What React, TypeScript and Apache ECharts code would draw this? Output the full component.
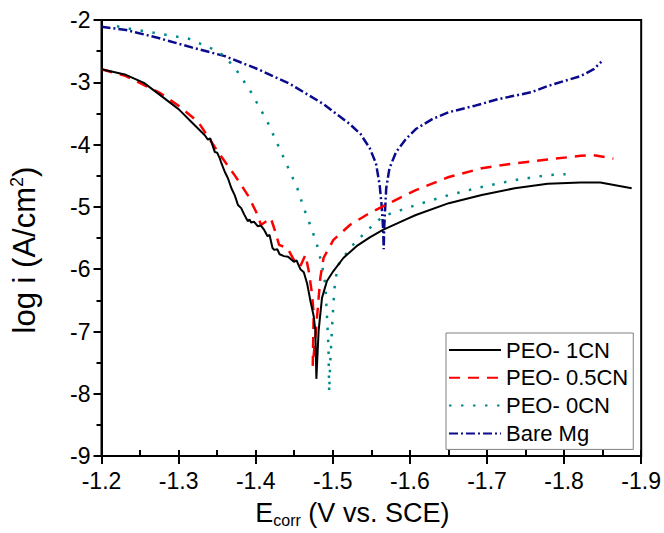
import React, { useEffect, useRef } from "react";
import * as echarts from "echarts";

const FONT = "'Liberation Sans', Arial, sans-serif";

const xTickValues = [-1.2, -1.3, -1.4, -1.5, -1.6, -1.7, -1.8, -1.9];
const yTickValues = [-2, -3, -4, -5, -6, -7, -8, -9];

const seriesNames = ["PEO- 1CN", "PEO- 0.5CN", "PEO- 0CN", "Bare Mg"];

const peo1CN: [number, number][] = [
  [-1.2, -2.79], [-1.2316, -2.88], [-1.255, -3.01], [-1.2744, -3.19], [-1.3, -3.43],
  [-1.317, -3.64], [-1.334, -3.85], [-1.338, -3.92], [-1.341, -3.9], [-1.347, -4.12],
  [-1.350, -4.13], [-1.3534, -4.22], [-1.355, -4.28], [-1.36, -4.44], [-1.364, -4.54],
  [-1.3685, -4.70], [-1.373, -4.82], [-1.377, -4.97], [-1.3812, -5.02], [-1.385, -5.12],
  [-1.3898, -5.23], [-1.392, -5.2], [-1.394, -5.25], [-1.398, -5.24], [-1.4026, -5.31],
  [-1.4068, -5.30], [-1.411, -5.37], [-1.4154, -5.47], [-1.418, -5.45], [-1.4218, -5.66],
  [-1.424, -5.69], [-1.428, -5.68], [-1.431, -5.76], [-1.4367, -5.79], [-1.442, -5.8],
  [-1.4495, -5.88], [-1.453, -5.86], [-1.458, -6.0], [-1.4624, -6.05], [-1.4667, -6.23],
  [-1.471, -6.51], [-1.4752, -6.75], [-1.4774, -6.99], [-1.4787, -7.76],
  [-1.4816, -6.99], [-1.486, -6.46], [-1.4924, -6.19], [-1.5008, -6.03], [-1.5137, -5.82],
  [-1.5308, -5.63], [-1.548, -5.49], [-1.565, -5.37], [-1.595, -5.2], [-1.6077, -5.13],
  [-1.6505, -4.94], [-1.6932, -4.81], [-1.736, -4.70], [-1.7787, -4.63], [-1.8214, -4.61],
  [-1.847, -4.61], [-1.8877, -4.70],
];

const peo05CN: [number, number][] = [
  [-1.2, -2.79], [-1.2316, -2.90], [-1.2744, -3.16], [-1.3, -3.375], [-1.3256, -3.64],
  [-1.3513, -4.12], [-1.3726, -4.49], [-1.3813, -4.65], [-1.3897, -4.81], [-1.4026, -5.13],
  [-1.4068, -5.29], [-1.4196, -5.18], [-1.426, -5.42], [-1.4303, -5.61], [-1.441, -5.66],
  [-1.4495, -5.85], [-1.458, -5.95], [-1.4645, -5.77], [-1.4688, -6.03], [-1.4731, -6.40],
  [-1.4752, -6.72], [-1.4745, -7.2], [-1.474, -7.55],
  [-1.478, -7.0], [-1.4838, -6.14], [-1.488, -5.82], [-1.5008, -5.53], [-1.5222, -5.29],
  [-1.5436, -5.13], [-1.565, -4.99], [-1.6077, -4.73], [-1.6505, -4.52], [-1.6932, -4.38],
  [-1.736, -4.30], [-1.7787, -4.24], [-1.8214, -4.18], [-1.8385, -4.17], [-1.864, -4.225],
];

const peo0CN: [number, number][] = [
  [-1.22, -2.10], [-1.232, -2.13], [-1.266, -2.20], [-1.313, -2.30], [-1.343, -2.46],
  [-1.36, -2.58], [-1.377, -2.84], [-1.394, -3.16], [-1.4155, -3.64], [-1.437, -4.23],
  [-1.454, -4.70], [-1.4624, -5.02], [-1.4731, -5.37], [-1.4795, -5.61], [-1.486, -5.93],
  [-1.4902, -6.24], [-1.4923, -6.72], [-1.4944, -7.25], [-1.4953, -7.97],
  [-1.4966, -7.52], [-1.4988, -6.99], [-1.5008, -6.56], [-1.503, -6.19], [-1.5073, -5.93],
  [-1.5222, -5.66], [-1.5436, -5.39], [-1.565, -5.15], [-1.6077, -4.97], [-1.6505, -4.81],
  [-1.6932, -4.68], [-1.736, -4.57], [-1.7787, -4.49], [-1.802, -4.475],
];

const bareMg: [number, number][] = [
  [-1.2, -2.11], [-1.232, -2.16], [-1.274, -2.29], [-1.317, -2.44], [-1.36, -2.58],
  [-1.403, -2.79], [-1.445, -3.03], [-1.488, -3.35], [-1.522, -3.67], [-1.536, -3.83],
  [-1.548, -4.06], [-1.556, -4.3], [-1.5608, -4.65], [-1.5635, -5.0], [-1.5655, -5.4],
  [-1.566, -5.68],
  [-1.5668, -5.3], [-1.5693, -4.70], [-1.5735, -4.38], [-1.5821, -4.12], [-1.5949, -3.91],
  [-1.6077, -3.75], [-1.629, -3.59], [-1.6505, -3.48], [-1.6847, -3.375], [-1.7146, -3.27],
  [-1.7573, -3.16], [-1.7788, -3.06], [-1.8, -2.98], [-1.8214, -2.90], [-1.8385, -2.79],
  [-1.8483, -2.67],
];

const seriesData = [peo1CN, peo05CN, peo0CN, bareMg];
const seriesColors = ["#000000", "#ff0000", "#008b8b", "#0a0a8c"];
const seriesDash: any[] = ["solid", [11, 8], [2.5, 9.5], [9, 3, 2, 3]];
const seriesWidth = [2, 2.5, 2.5, 2.5];

export default function App() {
  const ref = useRef<HTMLDivElement>(null);
  useEffect(() => {
    if (!ref.current) return;
    const chart = echarts.init(ref.current, null, { renderer: "svg" });
    const tickFont = { fontFamily: FONT, fontSize: 23, color: "#000" };
    chart.setOption({
      animation: false,
      backgroundColor: "#fff",
      grid: {
        left: 99,
        right: 19,
        top: 20,
        bottom: 73,
        show: true,
        borderColor: "#000",
        borderWidth: 2,
        backgroundColor: "transparent",
      },
      legend: {
        data: seriesNames,
        orient: "vertical",
        left: 446,
        top: 333,
        padding: [6, 5, 5, 2],
        itemWidth: 52,
        itemHeight: 14,
        itemGap: 5.8,
        borderColor: "#808080",
        borderWidth: 1,
        backgroundColor: "#fff",
        itemStyle: { opacity: 0 },
        textStyle: { fontFamily: FONT, fontSize: 22, color: "#000", lineHeight: 22 },
      },
      xAxis: [
        {
          type: "value",
          inverse: true,
          min: -1.9,
          max: -1.2,
          interval: 0.1,
          position: "bottom",
          axisLine: { show: true, lineStyle: { color: "#000", width: 2 } },
          axisTick: { show: true, inside: false, length: 8, lineStyle: { color: "#000", width: 2 } },
          axisLabel: {
            ...tickFont,
            margin: 13,
            formatter: (v: number) => {
              const s = v.toFixed(1);
              return xTickValues.some((t) => t.toFixed(1) === s) ? s : "";
            },
          },
          splitLine: { show: false },
          name: "{t|E}{s|corr}{t| (V vs. SCE)}",
          nameLocation: "middle",
          nameGap: 41,
          nameTextStyle: {
            padding: [0, 38, 0, 0],
            rich: {
              t: { fontFamily: FONT, fontSize: 27, color: "#000", lineHeight: 30 },
              s: { fontFamily: FONT, fontSize: 16, color: "#000", lineHeight: 16, padding: [15, 0, 0, 0] },
            },
          },
        },
        {
          type: "value",
          inverse: true,
          min: -1.9,
          max: -1.2,
          interval: 0.05,
          position: "bottom",
          axisLine: { show: false },
          axisTick: { show: true, inside: true, length: 6, lineStyle: { color: "#000", width: 2 } },
          axisLabel: { show: false },
          splitLine: { show: false },
        },
      ],
      yAxis: {
        type: "value",
        min: -9,
        max: -2,
        interval: 1,
        axisLine: { show: true, lineStyle: { color: "#000", width: 2 } },
        axisTick: { show: true, inside: false, length: 8, lineStyle: { color: "#000", width: 2 } },
        minorTick: { show: true, splitNumber: 2, length: 5, lineStyle: { color: "#000", width: 2 } },
        axisLabel: {
          ...tickFont,
          margin: 11,
          formatter: (v: number) => (yTickValues.includes(Math.round(v)) ? String(Math.round(v)) : ""),
        },
        splitLine: { show: false },
        name: "{t|log i (A/cm}{s|2}{t|)}",
        nameLocation: "middle",
        nameRotate: 90,
        nameGap: 61,
        nameTextStyle: {
          padding: [0, 24, 0, 0],
          rich: {
            t: { fontFamily: FONT, fontSize: 31, color: "#000", lineHeight: 33 },
            s: { fontFamily: FONT, fontSize: 18, color: "#000", lineHeight: 18, padding: [0, 0, 14, 0] },
          },
        },
      },
      series: seriesNames.map((name, i) => ({
        name,
        type: "line",
        xAxisIndex: 0,
        yAxisIndex: 0,
        data: seriesData[i],
        symbol: "none",
        showSymbol: false,
        smooth: false,
        z: 10 - i,
        lineStyle: { color: seriesColors[i], width: seriesWidth[i], type: seriesDash[i] },
        itemStyle: { color: seriesColors[i] },
      })),
    });
    return () => chart.dispose();
  }, []);
  return (
    <div
      ref={ref}
      style={{ position: "fixed", left: 0, top: 0, width: 664, height: 533, background: "#fff" }}
    />
  );
}
